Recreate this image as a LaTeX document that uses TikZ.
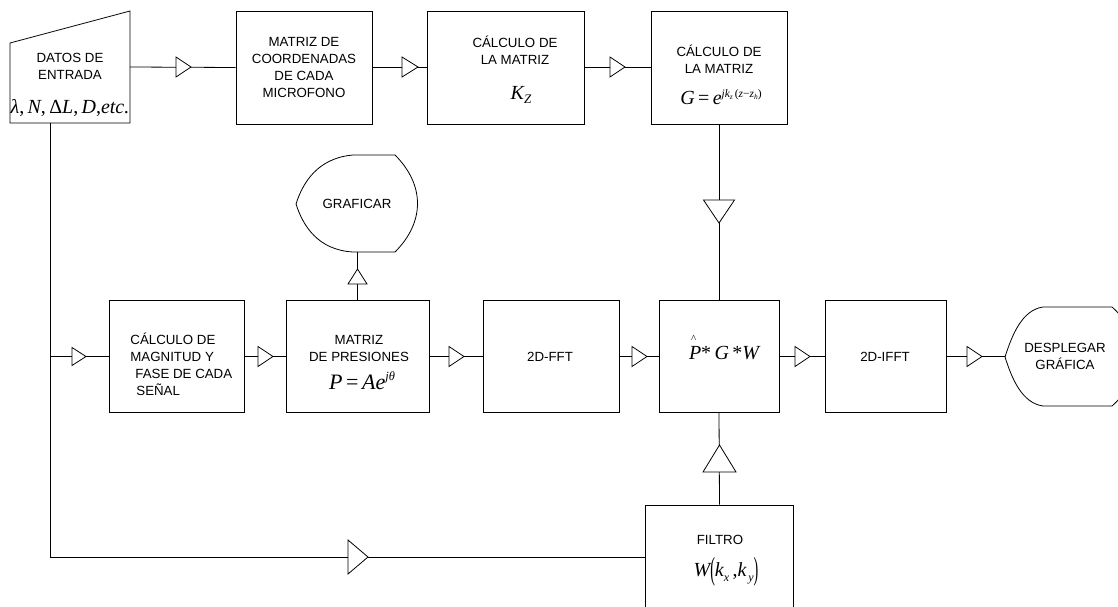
\documentclass[tikz,border=0pt]{standalone}
\usepackage{fontspec}
\usepackage{graphicx}
\setmainfont{Liberation Sans}
\newfontfamily\tms{Liberation Serif}
\newcommand\fm[1]{{\tms\itshape #1}}
\newcommand\fu[1]{{\tms #1}}
\newcommand\fsz[1]{\fontsize{#1}{#1}\selectfont}
\tikzset{
  pics/triR/.style 2 args={code={\draw[fill=white] (0,-#2/2)--(#1,0)--(0,#2/2)--cycle;}},
  pics/triD/.style 2 args={code={\draw[fill=white] (-#2/2,0)--(0,#1)--(#2/2,0)--cycle;}},
  pics/triU/.style 2 args={code={\draw[fill=white] (-#2/2,0)--(0,-#1)--(#2/2,0)--cycle;}},
  box/.style={draw, inner sep=0, minimum height=113},
  mbox/.style={draw, inner sep=0, minimum height=112},
  lbl/.style={font=\fontsize{13.3}{17}\selectfont, align=center, inner sep=0},
  frm/.style={inner sep=0},
}
\begin{document}
\begin{tikzpicture}[x=1pt,y=-1pt,line width=0.8pt]
\useasboundingbox (0,0) rectangle (1118,607);
\clip (0,0) rectangle (1118,607);

% ---- DATOS DE ENTRADA (manual input shape)
\draw (10,43) -- (130,11) -- (130,123) -- (10,123) -- cycle;
\coordinate (datosR) at (130,67);
\coordinate (datosB) at (50,123);
\coordinate (j1) at (50,356.5);
\coordinate (j2) at (50,557);
\node[lbl] (datos-t) at (70,66) {DATOS DE\\ENTRADA};
\node[frm] (datos-f) at (70,108) {\fsz{20}\fm{λ}\fu{,}\,\fm{N}\fu{,}\,\fu{Δ}\fm{L}\fu{,}\,\fm{D}\fu{,}\fm{etc.}};

% ---- top row
\node[box, minimum width=136] (coord) at (304,67.5) {};
\node[lbl] (coord-t) at (304,67.5) {MATRIZ DE\\COORDENADAS\\DE CADA\\MICROFONO};

\node[box, minimum width=157] (kz) at (505.5,67.5) {};
\node[lbl] (kz-t) at (515,50.5) {CÁLCULO DE\\LA MATRIZ};
\node[frm] (kz-f) at (521,95) {\fsz{20}\fm{K}\raisebox{-4pt}{\fsz{13}\fm{Z}}};

\node[box, minimum width=136] (gbox) at (719,67.5) {};
\node[lbl] (g-t) at (719,59.5) {CÁLCULO DE\\LA MATRIZ};
\node[frm] (g-f) at (721,97) {\fsz{20}\fm{G}\,\fu{=}\,\fm{e}\raisebox{7.5pt}{\fsz{11.5}\fm{jk}\raisebox{-2pt}{\fsz{7.5}\fm{z}}\,\fu{(}\fm{z}\fu{−}\fm{z}\raisebox{-2pt}{\fsz{7.5}\fm{h}}\fu{)}}};

% ---- GRAFICAR (display shape)
\draw (296,204) .. controls (303,182) and (318,158) .. (353,155) -- (395,155)
  .. controls (425,185) and (425,222) .. (395,252) -- (353,252)
  .. controls (318,250) and (303,226) .. (296,204) -- cycle;
\coordinate (grafB) at (357.5,252);
\node[lbl] (graf-t) at (357,204) {GRAFICAR};

% ---- middle row
\node[mbox, minimum width=135] (mag) at (176.5,356.5) {};
\node[lbl, align=left, anchor=west] (mag-t) at (130,364.5) {CÁLCULO DE\\MAGNITUD Y\\\hspace*{5pt}FASE DE CADA\\\hspace*{6pt}SEÑAL};

\node[mbox, minimum width=143] (pres) at (357.5,356.5) {};
\node[lbl] (pres-t) at (359,348) {MATRIZ\\DE PRESIONES};
\node[frm] (pres-f) at (362,381) {\fsz{22}\fm{P}\,\fu{=}\,\fm{Ae}\raisebox{9pt}{\fsz{12.5}\fm{jθ}}};

\node[mbox, minimum width=136] (fft) at (551,356.5) {};
\node[lbl] (fft-t) at (550,356.5) {2D-FFT};

\node[mbox, minimum width=120] (pgw) at (719,356.5) {};
\node[frm] (pgw-f) at (724,348) {\fsz{20}\makebox[0pt][l]{\hspace{2pt}\raisebox{17pt}{\fsz{11}\fu{\^{}}}}\fm{P}\fu{*}\,\fm{G}\,\fu{*}\fm{W}};

\node[mbox, minimum width=121] (ifft) at (885.5,356.5) {};
\node[lbl] (ifft-t) at (885,356.5) {2D-IFFT};

% ---- DESPLEGAR GRAFICA (display shape, cut by the edge)
\draw (1005,357) .. controls (1012,335) and (1022,310) .. (1043,307) -- (1112,307)
  .. controls (1142,333) and (1142,380) .. (1112,406) -- (1043,406)
  .. controls (1022,403) and (1012,379) .. (1005,357) -- cycle;
\coordinate (despL) at (1005,356.5);
\node[lbl] (desp-t) at (1065,356) {DESPLEGAR\\GRÁFICA};

% ---- FILTRO
\node[draw, inner sep=0, minimum width=148, minimum height=104] (filt) at (719.5,557) {};
\node[lbl] (filt-t) at (720,540) {FILTRO};
\node[frm] (filt-f) at (726,572) {\fsz{20}\fm{W}\raisebox{-3pt}{\scalebox{0.7}[1.6]{\fu{(}}}\fm{k}\raisebox{-5pt}{\fsz{12}\fm{x}}\,\fu{,}\fm{k}\raisebox{-5pt}{\fsz{12}\,\fm{y}}\raisebox{-3pt}{\scalebox{0.7}[1.6]{\fu{)}}}};

% ---- connectors
\draw (datosR) -- (coord.west);
\draw (coord.east) -- (kz.west);
\draw (kz.east) -- (gbox.west);
\draw (gbox.south) -- (pgw.north);
\draw (datosB) -- (j2) -- (filt.west);
\draw (j1) -- (mag.west);
\draw (mag.east) -- (pres.west);
\draw (pres.east) -- (fft.west);
\draw (fft.east) -- (pgw.west);
\draw (pgw.east) -- (ifft.west);
\draw (ifft.east) -- (despL);
\draw (pres.north) -- (grafB);
\draw (filt.north) -- (pgw.south);

% ---- triangles
\pic at (176,67) {triR={15}{20}};
\pic at (402,67) {triR={16}{20}};
\pic at (610,67) {triR={15}{20}};
\pic at (72,356.5) {triR={14}{18}};
\pic at (258,356.5) {triR={15}{20}};
\pic at (449,356.5) {triR={15}{20}};
\pic at (632,356.5) {triR={15}{20}};
\pic at (795,356.5) {triR={15}{20}};
\pic at (967,356.5) {triR={15}{20}};
\pic at (348,557) {triR={20}{34}};
\pic at (719,200) {triD={23}{31}};
\pic at (719.5,472) {triU={27}{33}};
\pic at (357.5,284) {triU={15}{19}};
\end{tikzpicture}
\end{document}
